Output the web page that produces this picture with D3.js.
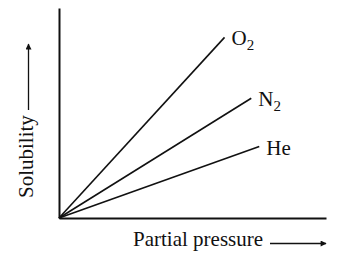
<!DOCTYPE html>
<html>
<head>
<meta charset="utf-8">
<script src="https://cdn.jsdelivr.net/npm/d3@7"></script>
<style>
  body { margin: 0; background: #fff; }
  text { font-family: "Liberation Serif", "Times New Roman", serif; fill: #111; }
</style>
</head>
<body>
<svg id="chart"></svg>
<script>
// gases and where each line ends (arbitrary units, 0..10)
var gases = ["O", "N", "He"];
var subscripts = ["2", "2", ""];
var pressureEnd = [6.2, 7.2, 7.5];
var solubilityEnd = [8.6, 5.7, 3.4];

var W = 362, H = 257;
var margin = { top: 8, right: 36, bottom: 39, left: 59 };
var width = W - margin.left - margin.right;
var height = H - margin.top - margin.bottom;

var svg = d3.select("#chart")
    .attr("width", W)
    .attr("height", H);

svg.append("defs").append("marker")
    .attr("id", "arrow")
    .attr("viewBox", "0 0 10 10")
    .attr("refX", 9)
    .attr("refY", 5)
    .attr("markerWidth", 7)
    .attr("markerHeight", 6)
    .attr("markerUnits", "userSpaceOnUse")
    .attr("orient", "auto")
    .append("path")
    .attr("d", "M0,0 L10,5 L0,10 Z")
    .attr("fill", "#111");

var g = svg.append("g")
    .attr("transform", "translate(" + margin.left + "," + margin.top + ")");

var x = d3.scaleLinear().domain([0, 10]).range([0, width]);
var y = d3.scaleLinear().domain([0, 10]).range([height, 0]);

// axes without ticks
g.append("g")
    .attr("transform", "translate(0," + height + ")")
    .call(d3.axisBottom(x).ticks(0).tickSize(0).tickSizeOuter(0))
    .select(".domain")
    .attr("stroke", "#111")
    .attr("stroke-width", 2);

g.append("g")
    .call(d3.axisLeft(y).ticks(0).tickSize(0).tickSizeOuter(0))
    .select(".domain")
    .attr("stroke", "#111")
    .attr("stroke-width", 2);

var data = gases.map(function(d, i) {
    return { name: d, sub: subscripts[i], p: pressureEnd[i], s: solubilityEnd[i] };
});

var line = d3.line()
    .x(function(d) { return x(d[0]); })
    .y(function(d) { return y(d[1]); });

g.selectAll(".gas")
    .data(data)
    .enter()
    .append("path")
    .attr("class", "gas")
    .attr("d", function(d) { return line([[0, 0], [d.p, d.s]]); })
    .attr("fill", "none")
    .attr("stroke", "#111")
    .attr("stroke-width", 1.6);

var labels = g.selectAll(".label")
    .data(data)
    .enter()
    .append("text")
    .attr("class", "label")
    .attr("x", function(d) { return x(d.p) + 7; })
    .attr("y", function(d) { return y(d.s) + 8; })
    .style("font-size", "21px");

labels.append("tspan").text(function(d) { return d.name; });
labels.append("tspan")
    .attr("dy", 5)
    .style("font-size", "15px")
    .text(function(d) { return d.sub; });

// axis titles with arrows
svg.append("text")
    .attr("transform", "translate(33,198) rotate(-90)")
    .style("font-size", "21px")
    .text("Solubility");

svg.append("line")
    .attr("x1", 28.5).attr("y1", 110)
    .attr("x2", 28.5).attr("y2", 44)
    .attr("stroke", "#111")
    .attr("stroke-width", 1.3)
    .attr("marker-end", "url(#arrow)");

svg.append("text")
    .attr("x", 133)
    .attr("y", 246)
    .style("font-size", "21px")
    .text("Partial pressure");

svg.append("line")
    .attr("x1", 270).attr("y1", 243.5)
    .attr("x2", 326).attr("y2", 243.5)
    .attr("stroke", "#111")
    .attr("stroke-width", 1.3)
    .attr("marker-end", "url(#arrow)");
</script>
</body>
</html>
